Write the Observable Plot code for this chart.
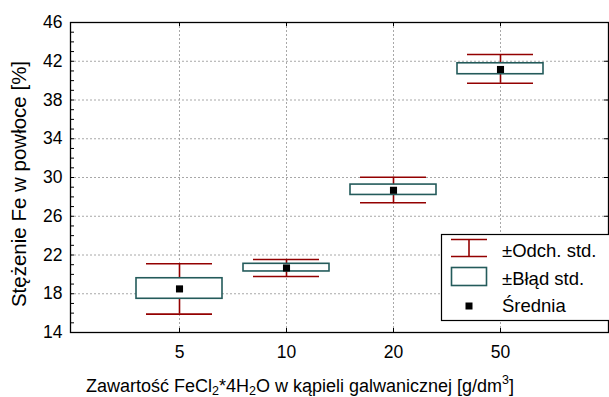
<!DOCTYPE html>
<html>
<head>
<meta charset="utf-8">
<script src="https://cdn.jsdelivr.net/npm/d3@7"></script>
<script src="https://cdn.jsdelivr.net/npm/@observablehq/plot@0.6"></script>
<style>
  html, body { margin: 0; padding: 0; background: #fff; }
  #chart svg { display: block; }
</style>
</head>
<body>
<div id="chart"></div>
<script>
// Data
const categories = ["5", "10", "20", "50"];
const means   = [18.5, 20.66, 28.68, 41.15];
const seLow   = [17.48, 20.30, 28.20, 40.66];
const seHigh  = [19.60, 21.09, 29.27, 41.79];
const sdLow   = [15.90, 19.78, 27.40, 39.73];
const sdHigh  = [21.10, 21.53, 30.03, 42.69];
const yTicks  = [14, 18, 22, 26, 30, 34, 38, 42, 46];
const yMinorTicks = d3.range(14, 47, 1);
const yTitle = "Stężenie Fe w powłoce [%]";
const legendLabels = ["±Odch. std.", "±Błąd std.", "Średnia"];

const data = categories.map((c, i) => ({
  cat: c, mean: means[i], seLo: seLow[i], seHi: seHigh[i], sdLo: sdLow[i], sdHi: sdHigh[i]
}));

const RED = "#930000";
const TEAL = "#245b5b";
const FONT = "'Liberation Sans', Arial, sans-serif";

const W = 609, H = 397;
const mL = 70, mR = 1, mT = 22, mB = 65;
const fw = W - mL - mR, fh = H - mT - mB;

const chart = Plot.plot({
  width: W,
  height: H,
  marginLeft: mL,
  marginRight: mR,
  marginTop: mT,
  marginBottom: mB,
  style: { fontFamily: FONT, background: "white", overflow: "visible" },
  x: { type: "band", domain: categories, paddingInner: 0.2, paddingOuter: 0.6, axis: null },
  y: { domain: [14, 46], axis: null },
  marks: [
    // grid
    Plot.ruleY(yTicks.slice(1, -1), { y: d => d, stroke: "#a8a8a8", strokeDasharray: "2,2", strokeWidth: 1 }),
    Plot.ruleX(categories, { x: d => d, stroke: "#a8a8a8", strokeDasharray: "2,2", strokeWidth: 1 }),
    // ticks
    Plot.ruleY(yMinorTicks, { y: d => d, insetRight: fw - 4, stroke: "black" }),
    Plot.ruleY(yTicks, { y: d => d, insetLeft: fw - 4, stroke: "black" }),
    Plot.ruleX(categories, { x: d => d, insetBottom: fh - 4, stroke: "black" }),
    Plot.ruleX(categories, { x: d => d, insetTop: fh - 4, stroke: "black" }),
    // axes labels
    Plot.axisY({ ticks: yTicks, tickSize: 0, tickPadding: 8, fontSize: 17.5, label: null }),
    Plot.axisX({ tickSize: 0, tickPadding: 13, fontSize: 17.5, label: null }),
    // whiskers
    Plot.ruleX(data, { x: "cat", y1: "sdLo", y2: "sdHi", stroke: RED, strokeWidth: 1.6 }),
    Plot.tickY(data, { x: "cat", y: "sdHi", stroke: RED, strokeWidth: 1.6, insetLeft: 10, insetRight: 10 }),
    Plot.tickY(data, { x: "cat", y: "sdLo", stroke: RED, strokeWidth: 1.6, insetLeft: 10, insetRight: 10 }),
    // std error boxes
    Plot.barY(data, { x: "cat", y1: "seLo", y2: "seHi", fill: "white", stroke: TEAL, strokeWidth: 1.6 }),
    // means
    Plot.dot(data, { x: "cat", y: "mean", symbol: "square", r: 4, fill: "black", stroke: "none" }),
    Plot.frame({ stroke: "black", strokeWidth: 1.3 })
  ]
});

document.getElementById("chart").appendChild(chart);

const svg = d3.select(chart);

// Y title
svg.append("text")
  .attr("transform", "translate(26,184) rotate(-90)")
  .attr("text-anchor", "middle")
  .style("font-family", FONT)
  .style("font-size", "20.5px")
  .attr("fill", "black")
  .text(yTitle);

// X title with sub/superscripts
const xt = svg.append("text")
  .attr("x", 86).attr("y", 391.5)
  .attr("text-anchor", "start")
  .style("font-family", FONT)
  .style("font-size", "18px")
  .attr("fill", "black");
xt.append("tspan").text("Zawartość FeCl");
xt.append("tspan").attr("dy", 3.5).style("font-size", "12.5px").text("2");
xt.append("tspan").attr("dy", -3.5).text("*4H");
xt.append("tspan").attr("dy", 3.5).style("font-size", "12.5px").text("2");
xt.append("tspan").attr("dy", -3.5).text("O w kąpieli galwanicznej [g/dm");
xt.append("tspan").attr("dy", -8).style("font-size", "12.5px").text("3");
xt.append("tspan").attr("dy", 8).text("]");

// Legend
const lg = svg.append("g").attr("text-anchor", "start");
lg.append("rect").attr("x", 441.5).attr("y", 234.5).attr("width", 172).attr("height", 86)
  .attr("fill", "white").attr("stroke", "black").attr("stroke-width", 1.2);
// whisker icon
lg.append("line").attr("x1", 451).attr("x2", 487).attr("y1", 239.5).attr("y2", 239.5).attr("stroke", RED).attr("stroke-width", 1.6);
lg.append("line").attr("x1", 451).attr("x2", 487).attr("y1", 256.5).attr("y2", 256.5).attr("stroke", RED).attr("stroke-width", 1.6);
lg.append("line").attr("x1", 469).attr("x2", 469).attr("y1", 239.5).attr("y2", 256.5).attr("stroke", RED).attr("stroke-width", 1.6);
// box icon
lg.append("rect").attr("x", 451.5).attr("y", 267.5).attr("width", 35).attr("height", 18)
  .attr("fill", "white").attr("stroke", TEAL).attr("stroke-width", 1.6);
// mean icon
lg.append("rect").attr("x", 465.5).attr("y", 302.5).attr("width", 7).attr("height", 7).attr("fill", "black");
const lgBase = [256.5, 284.5, 312];
legendLabels.forEach((t, i) => {
  lg.append("text").attr("x", 502).attr("y", lgBase[i]).attr("text-anchor", "start")
    .style("font-family", FONT).style("font-size", "18.5px").attr("fill", "black").text(t);
});
</script>
</body>
</html>
